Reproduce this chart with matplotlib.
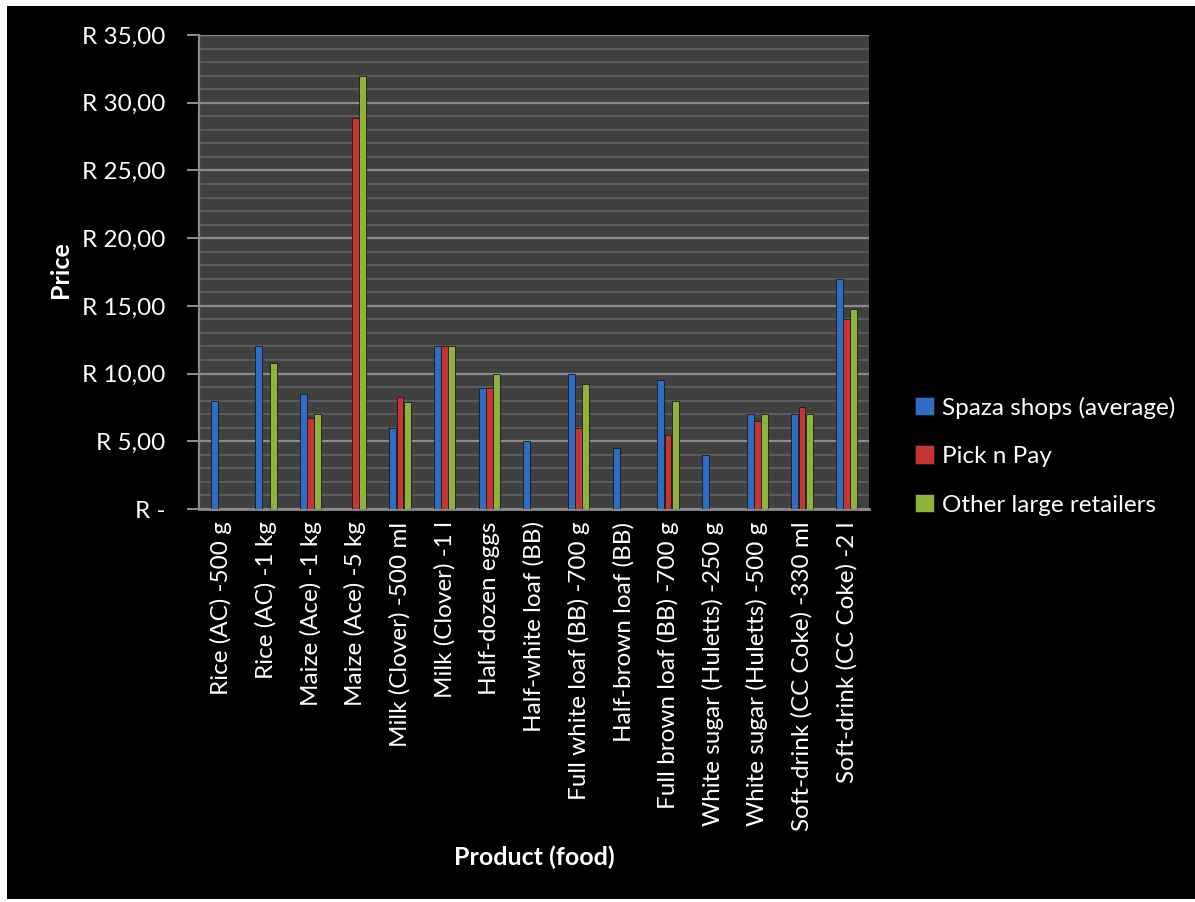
import numpy as np
import matplotlib
matplotlib.use("Agg")
import matplotlib.pyplot as plt
from matplotlib.patches import Rectangle

categories = ["Rice (AC) -500 g", "Rice (AC) -1 kg", "Maize (Ace) -1 kg", "Maize (Ace) -5 kg",
              "Milk (Clover) -500 ml", "Milk (Clover) -1 l", "Half-dozen eggs",
              "Half-white loaf (BB)", "Full white loaf (BB) -700 g", "Half-brown loaf (BB)",
              "Full brown loaf (BB) -700 g", "White sugar (Huletts) -250 g",
              "White sugar (Huletts) -500 g", "Soft-drink (CC Coke) -330 ml", "Soft-drink (CC Coke) -2 l"]
nan = np.nan
spaza = [8.0, 12.0, 8.5, nan, 6.0, 12.0, 8.9, 5.0, 10.0, 4.5, 9.5, 4.0, 7.0, 7.0, 17.0]
pnp = [nan, nan, 6.7, 28.9, 8.25, 12.0, 8.9, nan, 6.0, nan, 5.5, nan, 6.5, 7.5, 14.0]
other = [nan, 10.8, 7.0, 32.0, 7.9, 12.0, 10.0, nan, 9.2, nan, 8.0, nan, 7.0, 7.0, 14.8]
series_names = ["Spaza shops (average)", "Pick n Pay", "Other large retailers"]
colors = ["#2F6DC4", "#C83434", "#8DB43A"]
yticks = [0, 5, 10, 15, 20, 25, 30, 35]

plt.rcParams['font.family'] = ['Lato', 'DejaVu Sans']

W, H = 1195, 902
fig = plt.figure(figsize=(W/100, H/100), dpi=100, facecolor="white")
fig.add_artist(Rectangle((7/W, 3/H), 1 - 7/W, 1 - 9/H, transform=fig.transFigure,
                         facecolor="black", edgecolor="none", zorder=-10))

ax = fig.add_axes([199/W, 1 - 509/H, (869-199)/W, (509-35)/H])
ax.set_facecolor("#404040")

x = np.arange(len(categories))
bw = 0.16
for i, (vals, c, name) in enumerate(zip([spaza, pnp, other], colors, series_names)):
    ax.bar(x + (i - 1) * bw, vals, width=bw * 0.95, color=c, edgecolor="#1a1a1a",
           linewidth=0.6, label=name, zorder=3)

ax.set_xlim(-0.5, len(categories) - 0.5)
ax.set_ylim(0, 35)
ax.set_yticks(yticks)
ax.set_yticklabels(["R -" if v == 0 else f"R {v},00" for v in yticks])
ax.set_yticks(np.arange(0, 36, 1), minor=True)
ax.yaxis.grid(True, which="major", color="#8a8a8a", linewidth=1.6, zorder=1)
ax.yaxis.grid(True, which="minor", color="#5c5c5c", linewidth=1.4, zorder=1)
ax.tick_params(axis="y", which="major", colors="#8a8a8a", length=9, width=1.5,
               labelcolor="white", labelsize=17.5, pad=15)
ax.tick_params(axis="y", which="minor", length=0)
ax.set_xticks(x)
ax.set_xticklabels(categories, rotation=90, color="white", fontsize=17.5)
ax.tick_params(axis="x", length=0, pad=9)

for s in ["top", "right"]:
    ax.spines[s].set_visible(False)
ax.spines["left"].set_color("#8a8a8a")
ax.spines["left"].set_linewidth(1.6)
ax.spines["bottom"].set_color("#8a8a8a")
ax.spines["bottom"].set_linewidth(2)

fig.text(60/W, 1 - 270/H, "Price", rotation=90, color="white", fontsize=18,
         fontweight="bold", ha="center", va="center")
fig.text(534/W, 1 - 857/H, "Product (food)", color="white", fontsize=18,
         fontweight="bold", ha="center", va="center")

leg = fig.legend(loc="center left", bbox_to_anchor=(893/W, 1 - 456/H), frameon=False,
                 fontsize=17.5, labelcolor="white", handlelength=0.8, handleheight=0.8,
                 handletextpad=0.3, labelspacing=1.1)

fig.savefig("out.png", dpi=100, facecolor=fig.get_facecolor())
